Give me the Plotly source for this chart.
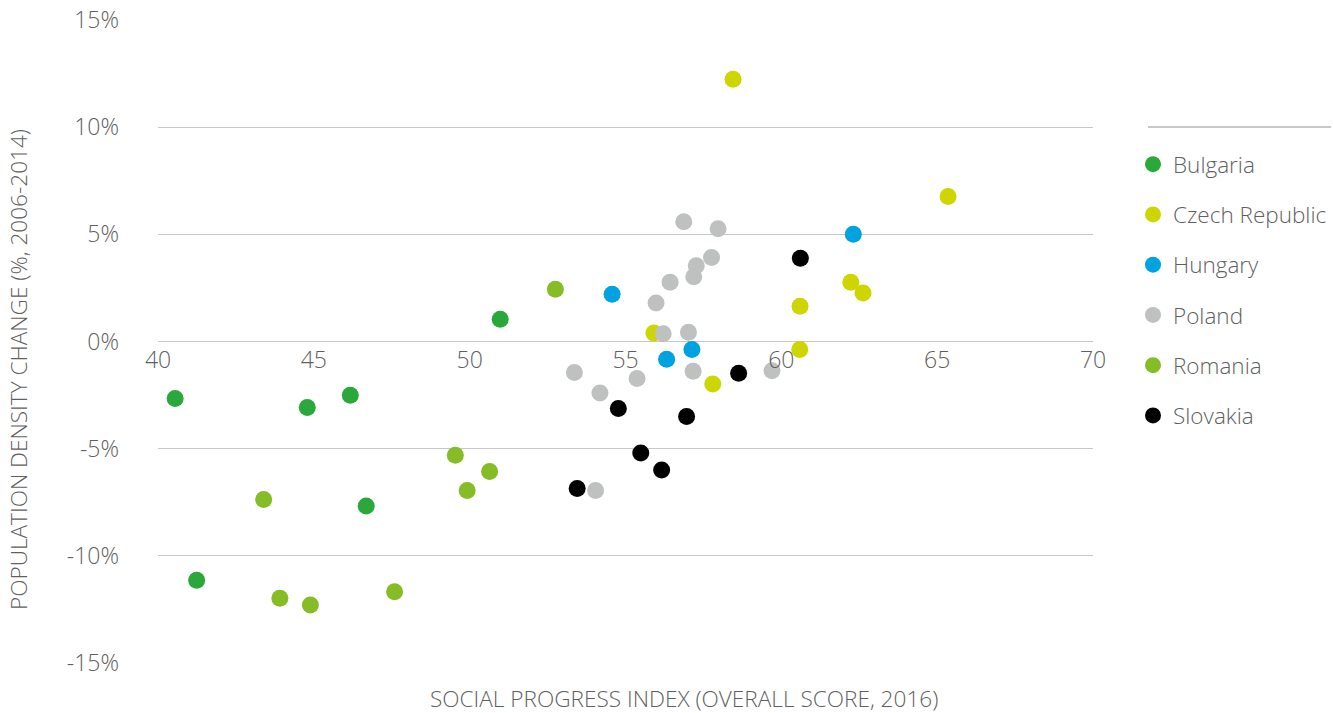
import plotly.graph_objects as go

countries = ["Bulgaria", "Czech Republic", "Hungary", "Poland", "Romania", "Slovakia"]
colors = ["#2AA83C", "#CDD600", "#00A3E0", "#BFC0C0", "#86BC25", "#000000"]

bulgaria_x = [40.55, 44.79, 46.17, 46.68, 41.24, 50.98]
bulgaria_y = [-2.66, -3.08, -2.51, -7.68, -11.14, 1.04]

czech_x = [55.91, 57.80, 58.45, 65.35, 62.23, 62.62, 60.60, 60.59]
czech_y = [0.40, -1.98, 12.24, 6.76, 2.76, 2.26, 1.65, -0.37]

hungary_x = [54.57, 57.13, 56.32, 62.31]
hungary_y = [2.20, -0.37, -0.83, 5.00]

poland_x = [53.36, 54.18, 55.37, 54.04, 56.21, 55.98, 56.43, 57.02, 57.17, 57.19, 56.87, 57.97, 57.76, 57.27, 59.70]
poland_y = [-1.45, -2.40, -1.73, -6.95, 0.36, 1.80, 2.77, 0.43, -1.39, 3.02, 5.59, 5.26, 3.92, 3.53, -1.37]

romania_x = [43.39, 43.91, 44.89, 47.59, 49.54, 52.75, 50.64, 49.92]
romania_y = [-7.37, -11.98, -12.29, -11.68, -5.31, 2.44, -6.06, -6.95]

slovakia_x = [53.45, 54.77, 55.49, 56.16, 56.96, 58.63, 60.61]
slovakia_y = [-6.86, -3.13, -5.20, -6.00, -3.50, -1.48, 3.88]

xs = [bulgaria_x, czech_x, hungary_x, poland_x, romania_x, slovakia_x]
ys = [bulgaria_y, czech_y, hungary_y, poland_y, romania_y, slovakia_y]

x_ticks = [40, 45, 50, 55, 60, 65, 70]
y_ticks = [-15, -10, -5, 0, 5, 10, 15]
y_tick_labels = ["-15%", "-10%", "-5%", "0%", "5%", "10%", "15%"]

FONT = "Open Sans"
TXT = "#5F5F5F"

fig = go.Figure()
for i, name in enumerate(countries):
    fig.add_trace(go.Scatter(
        x=xs[i], y=ys[i], mode="markers", name=name, legendgroup=name,
        marker=dict(size=17, color=colors[i], line=dict(width=0)),
    ))

L, R, T, B = 158, 240, 20, 50
W, H = 1333, 713
pw = W - L - R
ph = H - T - B

def px_x(p):
    return (p - L) / pw

def px_y(p):
    return (H - B - p) / ph

tf = dict(family=FONT, size=23, color=TXT, weight=300)
lf = dict(family=FONT, size=22.5, color=TXT, weight=300)
titf = dict(family=FONT, size=22.6, color=TXT, weight=300)

fig.update_layout(
    width=W, height=H,
    margin=dict(l=L, r=R, t=T, b=B, pad=0, autoexpand=False),
    plot_bgcolor="white", paper_bgcolor="white",
    font=tf,
    xaxis=dict(range=[40, 70], tickvals=x_ticks, showgrid=False, zeroline=False,
               showline=False, ticks="", anchor="free", position=0.5,
               ticklabelstandoff=2, tickfont=tf, automargin=False),
    yaxis=dict(range=[-15, 15], tickvals=y_ticks, ticktext=y_tick_labels,
               showgrid=True, gridcolor="#C8C8C8", gridwidth=1, zeroline=False,
               showline=False, ticks="", ticklabelstandoff=38,
               tickfont=tf, automargin=False),
    legend=dict(x=px_x(1133), y=px_y(143), xanchor="left", yanchor="top",
                font=lf, tracegroupgap=18,
                itemsizing="trace", bgcolor="rgba(0,0,0,0)"),
    showlegend=True,
)

fig.add_shape(type="line", xref="paper", yref="paper",
              x0=px_x(1148), x1=px_x(1331), y0=px_y(127), y1=px_y(127),
              line=dict(color="#C8C8C8", width=2))

fig.add_annotation(text="SOCIAL PROGRESS INDEX (OVERALL SCORE, 2016)", xref="paper", yref="paper",
                   x=px_x(684), y=px_y(698), showarrow=False, xanchor="center", yanchor="middle",
                   font=titf)
fig.add_annotation(text="POPULATION DENSITY CHANGE (%, 2006-2014)", xref="paper", yref="paper",
                   x=px_x(18), y=px_y(370), showarrow=False, textangle=-90,
                   xanchor="center", yanchor="middle", font=titf)

fig.write_html("out.html", config={"responsive": False, "displayModeBar": False},
               post_script="document.body.style.margin='0';document.body.style.overflow='hidden';")
